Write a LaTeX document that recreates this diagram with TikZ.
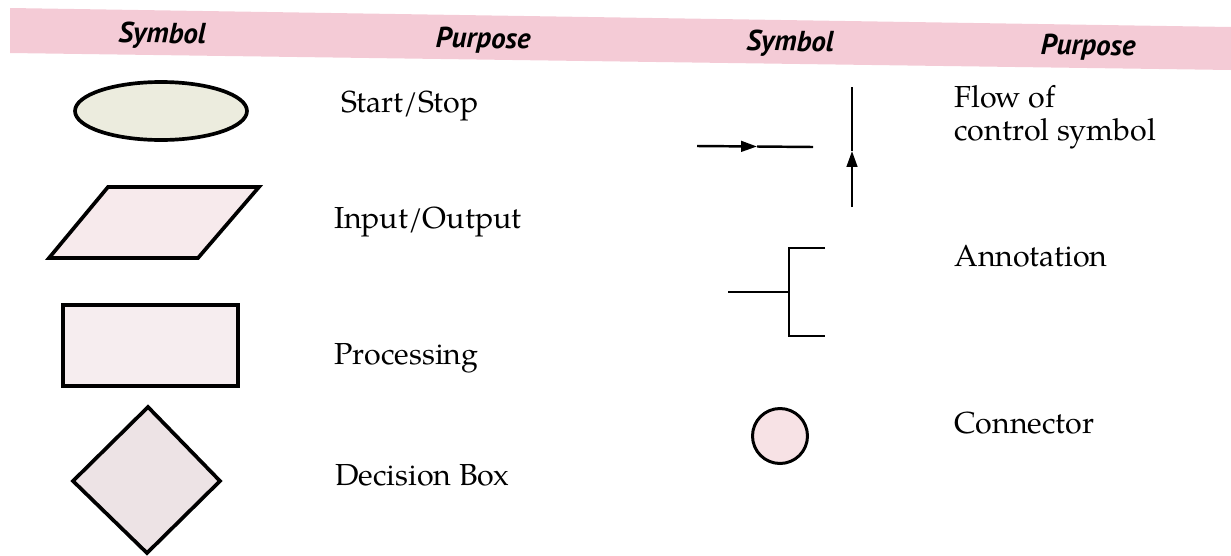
\documentclass[tikz,border=0pt]{standalone}
\usepackage{fontspec}
\setmainfont{texgyrepagella}[Extension=.otf, UprightFont=*-regular, BoldFont=*-bold, ItalicFont=*-italic]
\newfontfamily\headfont{PT Sans}
\usetikzlibrary{arrows.meta,shapes.geometric}
\definecolor{bandpink}{RGB}{244,203,214}
\definecolor{ellfill}{RGB}{236,236,222}
\definecolor{parfill}{RGB}{247,234,236}
\definecolor{recfill}{RGB}{246,237,239}
\definecolor{diafill}{RGB}{237,227,229}
\definecolor{cirfill}{RGB}{247,226,229}
\tikzset{
  shapeline/.style={draw=black, line width=2.1pt, line join=miter},
  flowline/.style={draw=black, line width=1.4pt},
  headtext/.style={font=\headfont\bfseries\itshape\fontsize{16.5}{18}\selectfont, anchor=base, rotate=-0.8, inner sep=0pt},
  purptext/.style={font=\fontsize{17.3}{20}\selectfont, anchor=base west, inner sep=0pt, align=left},
  tip/.style={-{Triangle[length=9pt,width=6pt]}}
}
\begin{document}
\begin{tikzpicture}[x=0.02cm, y=-0.02cm]
\useasboundingbox (0,0) rectangle (1231,555);
% header band
\fill[bandpink] (10,8) -- (1231,27) -- (1231,70) -- (10,53) -- cycle;
\node[headtext] (h1) at (162,43) {Symbol};
\node[headtext] (h2) at (483,48) {Purpose};
\node[headtext] (h3) at (790,51) {Symbol};
\node[headtext] (h4) at (1088,55) {Purpose};
% left column symbols
\node[shapeline, fill=ellfill, ellipse, minimum width=3.44cm, minimum height=1.16cm, inner sep=0pt] (ell) at (161,111) {};
\path[shapeline, fill=parfill] (108,187) -- (259,187) -- (198,258) -- (49,258) -- cycle;
\node[shapeline, fill=recfill, rectangle, minimum width=3.5cm, minimum height=1.62cm, inner sep=0pt] (rec) at (150.5,345.5) {};
\path[shapeline, fill=diafill] (148,407) -- (220,481) -- (147,553) -- (73,481) -- cycle;
% left column labels
\node[purptext] (t1) at (341,112) {Start/Stop};
\node[purptext] (t2) at (334,228) {Input/Output};
\node[purptext] (t3) at (334,364) {Processing};
\node[purptext] (t4) at (335,485) {Decision Box};
% flow of control
\coordinate (fa) at (697,146);
\coordinate (fm) at (757,146.5);
\coordinate (fb) at (813,147);
\draw[flowline, tip] (fa) -- (fm);
\draw[flowline] (fm) -- (fb);
\coordinate (va) at (852,207);
\coordinate (vm) at (852,151);
\coordinate (vb) at (852,87);
\draw[flowline, tip] (va) -- (vm);
\draw[flowline] (vm) -- (vb);
% annotation
\coordinate (an1) at (728,292);
\coordinate (an2) at (789,292);
\coordinate (an3) at (789,248);
\coordinate (an4) at (825,248);
\coordinate (an5) at (789,336);
\coordinate (an6) at (825,336);
\draw[flowline] (an1) -- (an2);
\draw[flowline] (an4) -- (an3) -- (an5) -- (an6);
% connector
\node[shapeline, fill=cirfill, circle, minimum size=1.1cm, inner sep=0pt, line width=1.7pt] (con) at (780,436) {};
% right labels
\node[purptext] (r1) at (954,107) {Flow of};
\node[purptext] (r2) at (954,140) {control symbol};
\node[purptext] (r3) at (954,266) {Annotation};
\node[purptext] (r4) at (954,433) {Connector};
\end{tikzpicture}
\end{document}
